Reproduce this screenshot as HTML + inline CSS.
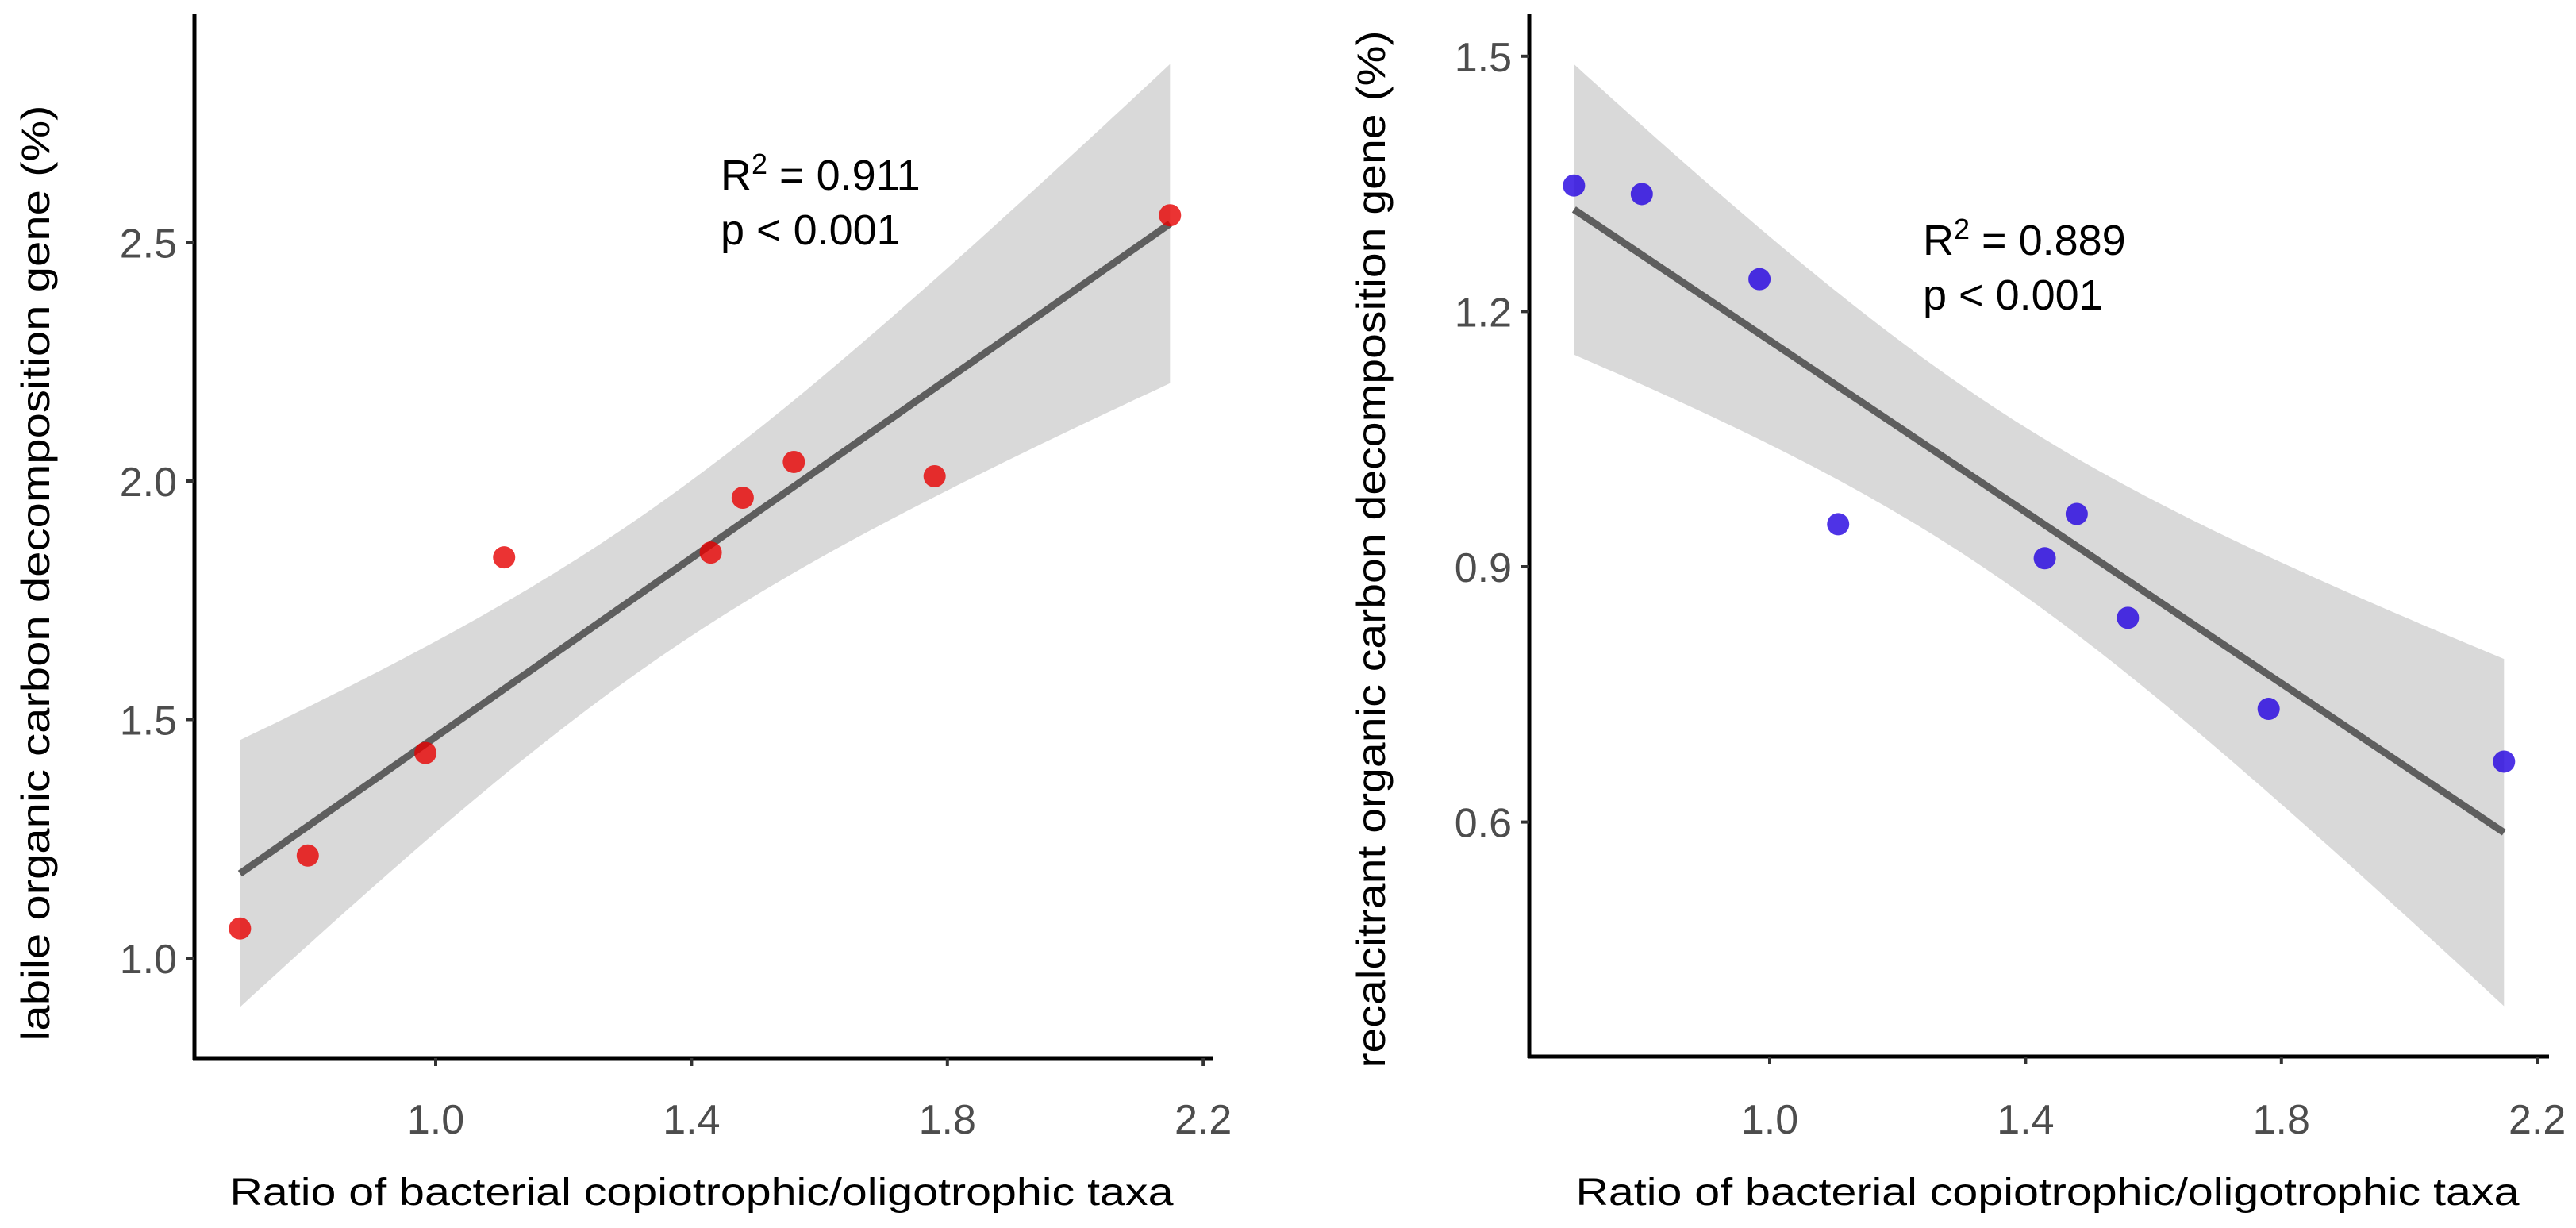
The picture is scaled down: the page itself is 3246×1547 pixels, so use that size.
<!DOCTYPE html>
<html><head><meta charset="utf-8">
<style>
html,body{margin:0;padding:0;background:#fff;}
svg{display:block;font-family:"Liberation Sans",Arial,sans-serif;}
</style></head>
<body>
<svg id="chart" width="3246" height="1547" viewBox="0 0 3246 1547"></svg>
<script>
// ---- data ----
const ratioX = [0.694, 0.80, 0.984, 1.107, 1.43, 1.48, 1.56, 1.78, 2.148];
const labileY = [1.062, 1.215, 1.43, 1.84, 1.85, 1.965, 2.04, 2.01, 2.557];
const recalY = [1.348, 1.338, 1.238, 0.95, 0.91, 0.962, 0.84, 0.733, 0.671];
const xTicks = [1.0, 1.4, 1.8, 2.2];
const xTickLabels = ["1.0", "1.4", "1.8", "2.2"];
const leftYTicks = [1.0, 1.5, 2.0, 2.5];
const leftYTickLabels = ["1.0", "1.5", "2.0", "2.5"];
const rightYTicks = [0.6, 0.9, 1.2, 1.5];
const rightYTickLabels = ["0.6", "0.9", "1.2", "1.5"];
const statsLeft = ["0.911", "p < 0.001"];
const statsRight = ["0.889", "p < 0.001"];

const NS = "http://www.w3.org/2000/svg";
const svg = document.getElementById("chart");
function mk(tag, attrs, parent) {
  const e = document.createElementNS(NS, tag);
  for (const k in attrs) e.setAttribute(k, attrs[k]);
  (parent || svg).appendChild(e);
  return e;
}

function fit(xs, ys) {
  const n = xs.length;
  const mx = xs.reduce((a, b) => a + b, 0) / n, my = ys.reduce((a, b) => a + b, 0) / n;
  let sxx = 0, sxy = 0;
  for (let i = 0; i < n; i++) { sxx += (xs[i] - mx) ** 2; sxy += (xs[i] - mx) * (ys[i] - my); }
  const b = sxy / sxx, a = my - b * mx;
  let sse = 0;
  for (let i = 0; i < n; i++) sse += (ys[i] - a - b * xs[i]) ** 2;
  const s = Math.sqrt(sse / (n - 2));
  return { a, b, mx, sxx, s, n };
}

function panel(cfg) {
  const g = mk("g", {});
  
  
  const X = v => cfg.x0 + (v - 1.0) * cfg.xs;
  const Y = v => cfg.yRef - (v - cfg.yRefV) * cfg.ys;
  const f = fit(ratioX, cfg.ys_data);
  const xmin = Math.min(...ratioX), xmax = Math.max(...ratioX);
  const t = 3.499;
  const up = [], lo = [];
  const N = 80;
  for (let i = 0; i <= N; i++) {
    const xv = xmin + (xmax - xmin) * i / N;
    const yh = f.a + f.b * xv;
    const se = f.s * Math.sqrt(1 / f.n + (xv - f.mx) ** 2 / f.sxx);
    up.push(X(xv).toFixed(1) + "," + Y(yh + t * se).toFixed(1));
    lo.unshift(X(xv).toFixed(1) + "," + Y(yh - t * se).toFixed(1));
  }
  const band = mk("polygon", { points: up.concat(lo).join(" "), fill: "#d9d9d9" }, g);
  
  
  const line = mk("line", { x1: X(xmin), y1: Y(f.a + f.b * xmin), x2: X(xmax), y2: Y(f.a + f.b * xmax), stroke: "#5e5e5e", "stroke-width": 9 }, g);
  
  
  for (let i = 0; i < ratioX.length; i++) {
    const c = mk("circle", { cx: X(ratioX[i]), cy: Y(cfg.ys_data[i]), r: 14, fill: cfg.color, "fill-opacity": 0.8 }, g);
    
    
  }
  // axes
  const ya = mk("line", { x1: cfg.axX, y1: 18, x2: cfg.axX, y2: cfg.axY + 2, stroke: "#000", "stroke-width": 5 }, g);
  
  
  const xa = mk("line", { x1: cfg.axX - 2, y1: cfg.axY, x2: cfg.axEnd, y2: cfg.axY, stroke: "#000", "stroke-width": 5 }, g);
  
  
  xTicks.forEach((v, i) => {
    mk("line", { x1: X(v), y1: cfg.axY, x2: X(v), y2: cfg.axY + 10, stroke: "#333", "stroke-width": 4 }, g);
    const tx = mk("text", { x: X(v), y: 1428, "text-anchor": "middle", "font-size": 52, fill: "#4d4d4d" }, g);
    tx.textContent = xTickLabels[i];
    
    
  });
  cfg.yTicks.forEach((v, i) => {
    mk("line", { x1: cfg.axX - 10, y1: Y(v), x2: cfg.axX, y2: Y(v), stroke: "#333", "stroke-width": 4 }, g);
    const tx = mk("text", { x: cfg.axX - 22, y: Y(v) + 19, "text-anchor": "end", "font-size": 52, fill: "#4d4d4d" }, g);
    tx.textContent = cfg.yLabels[i];
    
    
  });
  const xt = mk("text", { x: cfg.xTitleX, y: 1518, "text-anchor": "middle", "font-size": 48, fill: "#000", textLength: 1189, lengthAdjust: "spacingAndGlyphs" }, g);
  xt.textContent = "Ratio of bacterial copiotrophic/oligotrophic taxa";
  
  
  const yt = mk("text", { x: 0, y: 0, "text-anchor": "middle", "font-size": 50, fill: "#000", textLength: cfg.yTitleLen, lengthAdjust: "spacingAndGlyphs", transform: `translate(${cfg.yTitleX},${cfg.yTitleY}) rotate(-90)` }, g);
  yt.textContent = cfg.yTitle;
  
  
  const r2 = mk("text", { x: cfg.statX, y: cfg.statY, "font-size": 54, fill: "#000" }, g);
  
  
  const t1 = mk("tspan", {}, r2); t1.textContent = "R";
  const t2 = mk("tspan", { dy: -20, "font-size": 36 }, r2); t2.textContent = "2";
  const t3 = mk("tspan", { dy: 20 }, r2); t3.textContent = " = " + cfg.stats[0];
  const pv = mk("text", { x: cfg.statX, y: cfg.statY + 69, "font-size": 54, fill: "#000" }, g);
  pv.textContent = cfg.stats[1];
  
  
}

panel({ name: "labile-panel", x0: 549, xs: 806, yRef: 1207, yRefV: 1.0, ys: 601,
  ys_data: labileY, color: "#e60000", axX: 245, axY: 1333, axEnd: 1529,
  yTicks: leftYTicks, yLabels: leftYTickLabels, xTitleX: 884,
  yTitle: "labile organic carbon decomposition gene  (%)", yTitleX: 62, yTitleY: 722, yTitleLen: 1179,
  statX: 908, statY: 239, stats: statsLeft });
panel({ name: "recalcitrant-panel", x0: 2230, xs: 806, yRef: 714, yRefV: 0.9, ys: 1072,
  ys_data: recalY, color: "#2200e0", axX: 1927, axY: 1331, axEnd: 3212,
  yTicks: rightYTicks, yLabels: rightYTickLabels, xTitleX: 2580,
  yTitle: "recalcitrant organic carbon decomposition gene (%)", yTitleX: 1745, yTitleY: 692, yTitleLen: 1307,
  statX: 2423, statY: 321, stats: statsRight });
</script>
</body></html>
